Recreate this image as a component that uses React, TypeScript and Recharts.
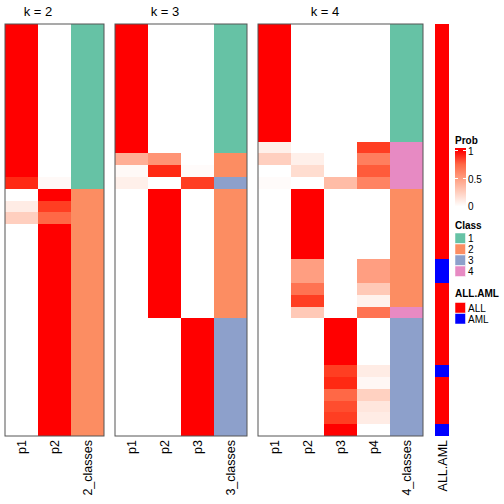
import React from 'react';
import { BarChart, Bar, Cell, XAxis, YAxis } from 'recharts';

// 35 samples, top to bottom
const k2P1 = [1, 1, 1, 1, 1, 1, 1, 1, 1, 1, 1, 1, 1, 0.95, 0, 0.1, 0.25, 0, 0, 0, 0, 0, 0, 0, 0, 0, 0, 0, 0, 0, 0, 0, 0, 0, 0];
const k2P2 = [0, 0, 0, 0, 0, 0, 0, 0, 0, 0, 0, 0, 0, 0.03, 1, 0.9, 0.75, 1, 1, 1, 1, 1, 1, 1, 1, 1, 1, 1, 1, 1, 1, 1, 1, 1, 1];
const k2Class = [1, 1, 1, 1, 1, 1, 1, 1, 1, 1, 1, 1, 1, 1, 2, 2, 2, 2, 2, 2, 2, 2, 2, 2, 2, 2, 2, 2, 2, 2, 2, 2, 2, 2, 2];

const k3P1 = [1, 1, 1, 1, 1, 1, 1, 1, 1, 1, 1, 0.42, 0.03, 0.08, 0, 0, 0, 0, 0, 0, 0, 0, 0, 0, 0, 0, 0, 0, 0, 0, 0, 0, 0, 0, 0];
const k3P2 = [0, 0, 0, 0, 0, 0, 0, 0, 0, 0, 0, 0.55, 0.95, 0, 1, 1, 1, 1, 1, 1, 1, 1, 1, 1, 1, 0, 0, 0, 0, 0, 0, 0, 0, 0, 0];
const k3P3 = [0, 0, 0, 0, 0, 0, 0, 0, 0, 0, 0, 0, 0.02, 0.9, 0, 0, 0, 0, 0, 0, 0, 0, 0, 0, 0, 1, 1, 1, 1, 1, 1, 1, 1, 1, 1];
const k3Class = [1, 1, 1, 1, 1, 1, 1, 1, 1, 1, 1, 2, 2, 3, 2, 2, 2, 2, 2, 2, 2, 2, 2, 2, 2, 3, 3, 3, 3, 3, 3, 3, 3, 3, 3];

const k4P1 = [1, 1, 1, 1, 1, 1, 1, 1, 1, 1, 0.08, 0.25, 0, 0.02, 0, 0, 0, 0, 0, 0, 0, 0, 0, 0, 0, 0, 0, 0, 0, 0, 0, 0, 0, 0, 0];
const k4P2 = [0, 0, 0, 0, 0, 0, 0, 0, 0, 0, 0, 0.08, 0.18, 0, 1, 1, 1, 1, 1, 1, 0.5, 0.5, 0.7, 0.9, 0.28, 0, 0, 0, 0, 0, 0, 0, 0, 0, 0];
const k4P3 = [0, 0, 0, 0, 0, 0, 0, 0, 0, 0, 0, 0, 0, 0.35, 0, 0, 0, 0, 0, 0, 0, 0, 0, 0, 0, 1, 1, 1, 1, 0.9, 0.95, 0.75, 0.85, 0.9, 1];
const k4P4 = [0, 0, 0, 0, 0, 0, 0, 0, 0, 0, 0.9, 0.65, 0.8, 0.63, 0, 0, 0, 0, 0, 0, 0.5, 0.5, 0.28, 0.07, 0.7, 0, 0, 0, 0, 0.1, 0.04, 0.24, 0.13, 0.1, 0];
const k4Class = [1, 1, 1, 1, 1, 1, 1, 1, 1, 1, 4, 4, 4, 4, 2, 2, 2, 2, 2, 2, 2, 2, 2, 2, 4, 3, 3, 3, 3, 3, 3, 3, 3, 3, 3];

const allAml = ['ALL', 'ALL', 'ALL', 'ALL', 'ALL', 'ALL', 'ALL', 'ALL', 'ALL', 'ALL', 'ALL', 'ALL', 'ALL', 'ALL', 'ALL', 'ALL', 'ALL', 'ALL', 'ALL', 'ALL', 'AML', 'AML', 'ALL', 'ALL', 'ALL', 'ALL', 'ALL', 'ALL', 'ALL', 'AML', 'ALL', 'ALL', 'ALL', 'ALL', 'AML'];

const classColors: Record<number, string> = { 1: '#66C2A5', 2: '#FC8D62', 3: '#8DA0CB', 4: '#E78AC3' };
const groupColors: Record<string, string> = { ALL: '#FF0000', AML: '#0000FF' };

const N = 35;
const PLOT_TOP = 24;
const PLOT_H = 412;
const COL_W = 33;

// white -> red in Lab, like colorRamp2
const lin = (c: number) => { c /= 255; return c <= 0.04045 ? c / 12.92 : Math.pow((c + 0.055) / 1.055, 2.4); };
const unlin = (c: number) => { const v = c <= 0.0031308 ? 12.92 * c : 1.055 * Math.pow(c, 1 / 2.4) - 0.055; return Math.max(0, Math.min(255, Math.round(v * 255))); };
const f = (t: number) => (t > 0.008856 ? Math.cbrt(t) : 7.787 * t + 16 / 116);
const fi = (t: number) => (t > 0.206893 ? t * t * t : (t - 16 / 116) / 7.787);
const toLab = (r: number, g: number, b: number) => {
  const R = lin(r), G = lin(g), B = lin(b);
  const X = (0.4124 * R + 0.3576 * G + 0.1805 * B) / 0.95047;
  const Y = 0.2126 * R + 0.7152 * G + 0.0722 * B;
  const Z = (0.0193 * R + 0.1192 * G + 0.9505 * B) / 1.08883;
  return [116 * f(Y) - 16, 500 * (f(X) - f(Y)), 200 * (f(Y) - f(Z))];
};
const fromLab = (L: number, a: number, bb: number) => {
  const fy = (L + 16) / 116, fx = fy + a / 500, fz = fy - bb / 200;
  const X = fi(fx) * 0.95047, Y = fi(fy), Z = fi(fz) * 1.08883;
  const R = 3.2406 * X - 1.5372 * Y - 0.4986 * Z;
  const G = -0.9689 * X + 1.8758 * Y + 0.0415 * Z;
  const B = 0.0557 * X - 0.204 * Y + 1.057 * Z;
  return `rgb(${unlin(R)},${unlin(G)},${unlin(B)})`;
};
const WHITE = toLab(255, 255, 255);
const RED = toLab(255, 0, 0);
const probColor = (p: number) =>
  fromLab(WHITE[0] + (RED[0] - WHITE[0]) * p, WHITE[1] + (RED[1] - WHITE[1]) * p, WHITE[2] + (RED[2] - WHITE[2]) * p);

type Column = { name: string; kind: 'prob' | 'class' | 'group'; values: (number | string)[] };

const cellColor = (c: Column, i: number) => {
  const v = c.values[i];
  if (c.kind === 'prob') return probColor(v as number);
  if (c.kind === 'class') return classColors[v as number];
  return groupColors[v as string];
};

const RotTick = ({ x, y, payload }: any) => (
  <text
    transform={`translate(${x},${y + 4}) rotate(-90)`}
    textAnchor="end"
    dy="0.36em"
    fontSize={12.5}
    fontFamily="Liberation Sans, Arial, sans-serif"
    fill="#000"
  >
    {payload.value}
  </text>
);

const panelWidth = (columns: Column[]) =>
  columns.length === 1 && columns[0].kind === 'group' ? 14 : columns.length * COL_W;

function Panel({ left, columns, border = true }: { left: number; columns: Column[]; border?: boolean }) {
  const data = columns.map((c) => {
    const o: any = { name: c.name };
    for (let i = 0; i < N; i++) o['r' + i] = 1;
    return o;
  });
  const w = panelWidth(columns);
  return (
    <div style={{ position: 'absolute', left, top: PLOT_TOP }}>
      <BarChart
        width={w}
        height={PLOT_H + 70}
        data={data}
        margin={{ top: 0, right: 0, bottom: 0, left: 0 }}
        barCategoryGap={0}
        barGap={0}
      >
        <XAxis
          dataKey="name"
          height={70}
          axisLine={false}
          tickLine={false}
          tickSize={0}
          tickMargin={0}
          interval={0}
          tick={<RotTick />}
        />
        <YAxis type="number" domain={[0, N]} hide reversed />
        {Array.from({ length: N }).map((_, i) => (
          <Bar key={i} dataKey={'r' + i} stackId="s" isAnimationActive={false}>
            {columns.map((c, j) => (
              <Cell key={j} fill={cellColor(c, i)} />
            ))}
          </Bar>
        ))}
      </BarChart>
      {border && (
        <svg
          width={w + 2}
          height={PLOT_H + 2}
          style={{ position: 'absolute', left: -1, top: -1, pointerEvents: 'none' }}
        >
          <rect x={1} y={1} width={w} height={PLOT_H} fill="none" stroke="#555" strokeWidth={1} />
        </svg>
      )}
    </div>
  );
}

const FONT = 'Liberation Sans, Arial, sans-serif';

export default function App() {
  const legendX = 455;
  return (
    <div style={{ position: 'absolute', left: 0, top: 0, width: 504, height: 504, background: '#fff' }}>
      <style>{`.hm path.recharts-rectangle { shape-rendering: crispEdges; }`}</style>
      <div className="hm">
        <Panel
          left={5}
          columns={[
            { name: 'p1', kind: 'prob', values: k2P1 },
            { name: 'p2', kind: 'prob', values: k2P2 },
            { name: '2_classes', kind: 'class', values: k2Class },
          ]}
        />
        <Panel
          left={115}
          columns={[
            { name: 'p1', kind: 'prob', values: k3P1 },
            { name: 'p2', kind: 'prob', values: k3P2 },
            { name: 'p3', kind: 'prob', values: k3P3 },
            { name: '3_classes', kind: 'class', values: k3Class },
          ]}
        />
        <Panel
          left={258}
          columns={[
            { name: 'p1', kind: 'prob', values: k4P1 },
            { name: 'p2', kind: 'prob', values: k4P2 },
            { name: 'p3', kind: 'prob', values: k4P3 },
            { name: 'p4', kind: 'prob', values: k4P4 },
            { name: '4_classes', kind: 'class', values: k4Class },
          ]}
        />
        <Panel left={435} border={false} columns={[{ name: 'ALL.AML', kind: 'group', values: allAml }]} />
      </div>
      <svg width={504} height={504} style={{ position: 'absolute', left: 0, top: 0, pointerEvents: 'none' }} fontFamily={FONT}>
        <text x={38} y={16} fontSize={13} textAnchor="middle">k = 2</text>
        <text x={165} y={16} fontSize={13} textAnchor="middle">k = 3</text>
        <text x={325} y={16} fontSize={13} textAnchor="middle">k = 4</text>

        <defs>
          <linearGradient id="probGrad" x1="0" y1="0" x2="0" y2="1">
            <stop offset="0" stopColor={probColor(1)} />
            <stop offset="0.25" stopColor={probColor(0.75)} />
            <stop offset="0.5" stopColor={probColor(0.5)} />
            <stop offset="0.75" stopColor={probColor(0.25)} />
            <stop offset="1" stopColor={probColor(0)} />
          </linearGradient>
        </defs>
        <text x={legendX} y={143.5} fontSize={10} fontWeight="bold">Prob</text>
        <rect x={legendX} y={150.5} width={11} height={56} fill="url(#probGrad)" />
        <rect x={legendX} y={148} width={11} height={3} fill={probColor(1)} />
        {[150.5, 178.5].map((yy) => (
          <g key={yy} stroke="#fff" strokeWidth={1}>
            <line x1={legendX} x2={legendX + 3} y1={yy} y2={yy} />
            <line x1={legendX + 8} x2={legendX + 11} y1={yy} y2={yy} />
          </g>
        ))}
        <text x={468} y={154.5} fontSize={10}>1</text>
        <text x={468} y={182.5} fontSize={10}>0.5</text>
        <text x={468} y={210} fontSize={10}>0</text>

        <text x={legendX} y={228.5} fontSize={10} fontWeight="bold">Class</text>
        {[1, 2, 3, 4].map((c, i) => (
          <g key={c}>
            <rect x={legendX} y={233 + i * 11} width={10.5} height={10.5} fill={classColors[c]} stroke="#fff" strokeWidth={0.5} />
            <text x={468} y={242 + i * 11} fontSize={10}>{c}</text>
          </g>
        ))}

        <text x={legendX} y={297} fontSize={10} fontWeight="bold">ALL.AML</text>
        {['ALL', 'AML'].map((g, i) => (
          <g key={g}>
            <rect x={legendX} y={302.5 + i * 11} width={10.5} height={10.5} fill={groupColors[g]} stroke="#fff" strokeWidth={0.5} />
            <text x={468} y={311.5 + i * 11} fontSize={10}>{g}</text>
          </g>
        ))}
      </svg>
    </div>
  );
}
